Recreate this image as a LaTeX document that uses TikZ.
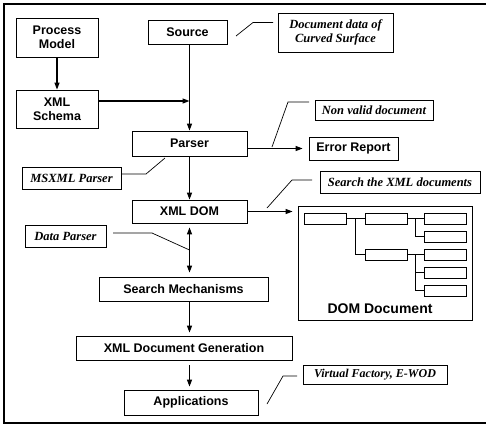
\documentclass[tikz,border=0pt]{standalone}
\usepackage{fontspec}
\setmainfont{Liberation Serif}
\setsansfont{Liberation Sans}
\usetikzlibrary{arrows.meta,calc}
\tikzset{
  box/.style={draw, line width=0.8pt, inner sep=0pt, align=center,
    font=\sffamily\bfseries\fontsize{12.5}{14}\selectfont},
  note/.style={draw, line width=0.7pt, inner sep=0pt, align=center,
    font=\rmfamily\bfseries\itshape\fontsize{12.5}{14}\selectfont},
  leaf/.style={draw, line width=0.7pt, minimum width=42pt, minimum height=11pt, inner sep=0pt},
  arr/.style={line width=1.2pt, -{Triangle[length=7pt,width=5pt]}},
  darr/.style={line width=1.2pt, {Triangle[length=7pt,width=5pt]}-{Triangle[length=7pt,width=5pt]}},
  lead/.style={line width=0.7pt},
  tree/.style={line width=0.7pt},
}
\begin{document}
\begin{tikzpicture}[x=1pt,y=-1pt]
\useasboundingbox (0,0) rectangle (486,424);
% frame (open on the right)
\draw[line width=1.2pt] (486,4) -- (4,4) -- (4,423) -- (486,423);

% main boxes
\node[box, minimum width=82pt, minimum height=39pt] (pm) at (57,37.5) {Process\\Model};
\node[box, minimum width=82pt, minimum height=38pt] (schema) at (57,109) {XML\\Schema};
\node[box, minimum width=79pt, minimum height=24pt] (source) at (187.5,32) {Source};
\node[box, minimum width=115pt, minimum height=25pt] (parser) at (189.5,143.5) {Parser};
\node[box, minimum width=115pt, minimum height=23pt] (xmldom) at (189.5,211.5) {XML DOM};
\node[box, minimum width=169pt, minimum height=24pt] (search) at (183.5,289) {Search Mechanisms};
\node[box, minimum width=216pt, minimum height=24pt] (gen) at (184,348) {XML Document Generation};
\node[box, minimum width=134pt, minimum height=25pt] (apps) at (191,402.5) {Applications};
\node[box, minimum width=89pt, minimum height=23pt] (error) at (353.5,148.5) {Error Report};

% DOM document panel
\node[draw, line width=0.8pt, minimum width=174pt, minimum height=114pt, inner sep=0pt] (dom) at (385,263) {};
\node[font=\sffamily\bfseries\fontsize{14}{16}\selectfont, inner sep=0pt] (domlabel) at (380,309) {DOM Document};
\node[leaf] (l1) at (325.5,218.5) {};
\node[leaf] (l2a) at (386,218.5) {};
\node[leaf] (l2b) at (386,254.5) {};
\node[leaf] (l3a) at (445.5,218.5) {};
\node[leaf] (l3b) at (445.5,236.5) {};
\node[leaf] (l3c) at (445.5,254.5) {};
\node[leaf] (l3d) at (445.5,272.5) {};
\node[leaf] (l3e) at (445.5,290.5) {};
\draw[tree] (l1.east) -- (l2a.west);
\draw[tree] ($(l1.east)!0.5!(l2a.west)$) |- (l2b.west);
\draw[tree] (l2a.east) -- (l3a.west);
\draw[tree] ($(l2a.east)!0.5!(l3a.west)$) |- (l3b.west);
\draw[tree] (l2b.east) -- (l3c.west);
\draw[tree] ($(l2b.east)!0.5!(l3c.west)$) |- (l3d.west);
\draw[tree] ($(l2b.east)!0.5!(l3c.west)$) |- (l3e.west);

% annotations
\node[note, minimum width=115pt, minimum height=39pt] (curved) at (335.5,32.5) {Document data of\\Curved Surface};
\node[note, minimum width=118pt, minimum height=20pt] (nonvalid) at (374,110) {Non valid document};
\node[note, minimum width=99pt, minimum height=22pt] (msxml) at (71.5,178) {MSXML Parser};
\node[note, minimum width=81pt, minimum height=22pt] (dparser) at (65.5,236) {Data Parser};
\node[note, minimum width=160pt, minimum height=22pt] (searchxml) at (400,182) {Search the XML documents};
\node[note, minimum width=144pt, minimum height=19pt, font=\rmfamily\bfseries\itshape\fontsize{12}{14}\selectfont] (virtual) at (375,374.5) {Virtual Factory, E-WOD};

% flow arrows
\coordinate (join) at (189.5,101);
\draw[arr] (source.south -| parser.north) -- (parser.north);
\draw[arr] (schema.east |- join) -- (join);
\draw[arr] (pm) -- (schema);
\draw[arr] (parser) -- (xmldom);
\draw[arr, shorten >=6pt] (parser.east |- error.west) -- (error.west);
\draw[arr, shorten >=5pt] (xmldom.east) -- (xmldom.east -| dom.west);
\draw[darr, shorten <=4pt, shorten >=4pt] (xmldom.south) -- (xmldom.south |- search.north);
\draw[arr, shorten >=3pt] (search.south -| xmldom.south) -- (gen.north -| xmldom.south);
\draw[arr, shorten <=5pt, shorten >=3pt] (gen.south -| xmldom.south) -- (apps.north -| xmldom.south);

% annotation leaders
\coordinate (c1) at (236,36);  \coordinate (c1e) at (273,22.5);
\draw[lead] (c1) -- (253,22.5) -- (c1e);
\coordinate (c2) at (272,147); \coordinate (c2e) at (309,102);
\draw[lead] (c2) -- (288,102) -- (c2e);
\coordinate (c3) at (165,158);
\draw[lead] (msxml.east |- 0,174) -- (146,174) -- (c3);
\coordinate (c4s) at (113,233); \coordinate (c4) at (189.5,250);
\draw[lead] (c4s) -- (152,233) -- (c4);
\coordinate (c5) at (267,208); \coordinate (c5e) at (312,180);
\draw[lead] (c5) -- (292,180) -- (c5e);
\coordinate (c6) at (267,404); \coordinate (c6e) at (297,376);
\draw[lead] (c6) -- (283,376) -- (c6e);
\end{tikzpicture}
\end{document}
